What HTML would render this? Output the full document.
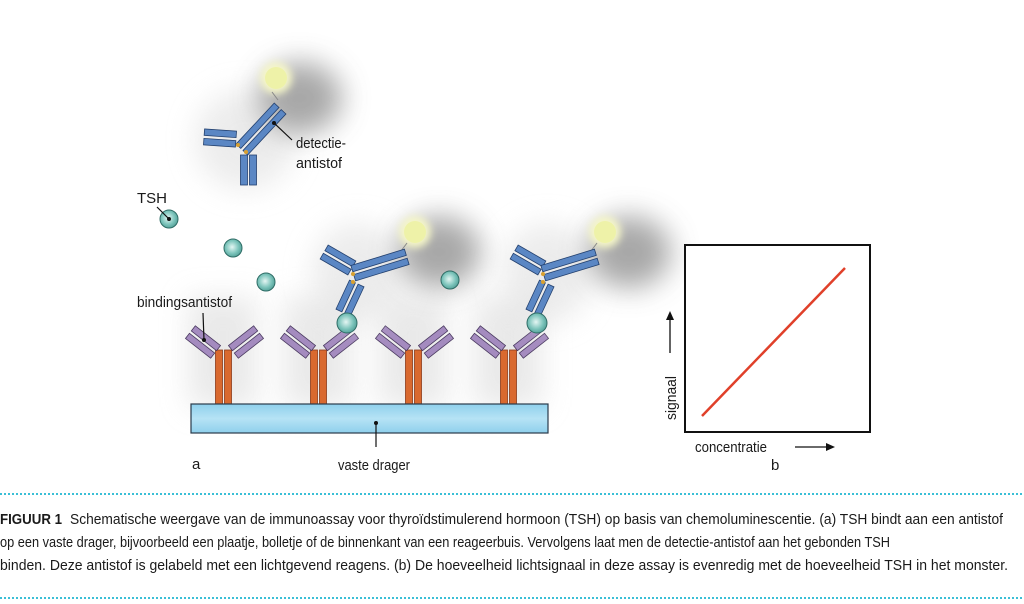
<!DOCTYPE html>
<html><head><meta charset="utf-8"><style>
html,body{margin:0;padding:0;background:#fff;}
svg{display:block;}
text{font-family:"Liberation Sans Narrow","Liberation Sans",sans-serif;fill:#1a1a1a;}
</style></head><body>
<svg width="1024" height="604" viewBox="0 0 1024 604" xmlns="http://www.w3.org/2000/svg">
<defs>
<filter id="bl" x="-60%" y="-60%" width="220%" height="220%"><feGaussianBlur stdDeviation="14"/></filter>
<filter id="bl2" x="-50%" y="-50%" width="200%" height="200%"><feGaussianBlur stdDeviation="4"/></filter>
<linearGradient id="sub" x1="0" y1="0" x2="0" y2="1"><stop offset="0" stop-color="#8fd0ec"/><stop offset="0.5" stop-color="#b6e3f5"/><stop offset="1" stop-color="#8fd0ec"/></linearGradient>
<radialGradient id="tsh" cx="0.45" cy="0.45" r="0.6"><stop offset="0" stop-color="#e4f6f3"/><stop offset="0.6" stop-color="#7cc4bb"/><stop offset="1" stop-color="#4f9c94"/></radialGradient>
<g id="pb"><rect x="-16" y="-8" width="32" height="6.5" fill="#a48bbf" stroke="#4a3a60" stroke-width="0.8"/><rect x="-16" y="1.5" width="32" height="6.5" fill="#a48bbf" stroke="#4a3a60" stroke-width="0.8"/></g>
<g id="ba">
<rect x="-34" y="-110" width="68" height="110" fill="#d8d8d8" filter="url(#bl)" opacity="0.55"/>
<rect x="-7.5" y="-57" width="7" height="57" fill="#d9692f" stroke="#8a3a1a" stroke-width="0.8"/>
<rect x="1.5" y="-57" width="7" height="57" fill="#d9692f" stroke="#8a3a1a" stroke-width="0.8"/>
<g transform="translate(-20,-65) rotate(38)"><use href="#pb"/></g>
<g transform="translate(23,-65) rotate(-38)"><use href="#pb"/></g>
</g>
<g id="bar32"><rect x="-16" y="-8" width="32" height="6.5" fill="#5b87c4" stroke="#23406e" stroke-width="0.8"/><rect x="-16" y="1.5" width="32" height="6.5" fill="#5b87c4" stroke="#23406e" stroke-width="0.8"/></g>
<g id="bar56"><rect x="-28" y="-8" width="56" height="6.5" fill="#5b87c4" stroke="#23406e" stroke-width="0.8"/><rect x="-28" y="1.5" width="56" height="6.5" fill="#5b87c4" stroke="#23406e" stroke-width="0.8"/></g>
<g id="light">
<ellipse cx="24" cy="20" rx="42" ry="36" fill="#999" filter="url(#bl)" opacity="0.85"/>
<circle cx="0" cy="0" r="16" fill="#f6f7c8" filter="url(#bl2)"/>
<circle cx="0" cy="0" r="11" fill="#eef2a8"/>
</g>
<g id="det">
<ellipse cx="10" cy="-50" rx="45" ry="50" fill="#e0e0e0" filter="url(#bl)" opacity="0.6"/>
<use href="#light" x="68" y="-91"/>
<line x1="48" y1="-64" x2="60" y2="-80" stroke="#888" stroke-width="1"/>
<g transform="translate(3,-25) rotate(-65)"><use href="#bar32"/></g>
<g transform="translate(-9,-63) rotate(30)"><use href="#bar32"/></g>
<g transform="translate(33,-58) rotate(-17)"><use href="#bar56"/></g>
<circle cx="6" cy="-49" r="2" fill="#d8a030"/>
<circle cx="6" cy="-41" r="2" fill="#d8a030"/>
</g>
</defs>

<use href="#ba" x="223" y="407"/>
<use href="#ba" x="318" y="407"/>
<use href="#ba" x="413" y="407"/>
<use href="#ba" x="508" y="407"/>
<rect x="191" y="404" width="357" height="29" fill="url(#sub)" stroke="#2a3a4a" stroke-width="1.2"/>

<ellipse cx="245" cy="140" rx="50" ry="50" fill="#e0e0e0" filter="url(#bl)" opacity="0.6"/>
<use href="#light" x="276" y="78"/>
<line x1="272" y1="92" x2="278" y2="100" stroke="#888"/>
<rect x="240.5" y="155" width="7" height="30" fill="#5b87c4" stroke="#23406e" stroke-width="0.8"/>
<rect x="249.5" y="155" width="7" height="30" fill="#5b87c4" stroke="#23406e" stroke-width="0.8"/>
<g transform="translate(220,138) rotate(4)"><use href="#bar32"/></g>
<g transform="translate(261,129) rotate(-47)"><use href="#bar56"/></g>
<circle cx="238" cy="145" r="2" fill="#d8a030"/>
<circle cx="246" cy="152" r="2" fill="#d8a030"/>

<use href="#det" x="347" y="323"/>
<use href="#det" x="537" y="323"/>
<circle cx="347" cy="323" r="10" fill="url(#tsh)" stroke="#2f6d66" stroke-width="1"/>
<circle cx="537" cy="323" r="10" fill="url(#tsh)" stroke="#2f6d66" stroke-width="1"/>

<circle cx="169" cy="219" r="9" fill="url(#tsh)" stroke="#2f6d66" stroke-width="1"/>
<circle cx="233" cy="248" r="9" fill="url(#tsh)" stroke="#2f6d66" stroke-width="1"/>
<circle cx="266" cy="282" r="9" fill="url(#tsh)" stroke="#2f6d66" stroke-width="1"/>
<circle cx="450" cy="280" r="9" fill="url(#tsh)" stroke="#2f6d66" stroke-width="1"/>

<text x="137" y="203" font-size="15">TSH</text>
<line x1="157" y1="207" x2="169" y2="219" stroke="#111" stroke-width="1.2"/><circle cx="169" cy="219" r="2" fill="#111"/>
<text x="137" y="307" font-size="15" textLength="95" lengthAdjust="spacingAndGlyphs">bindingsantistof</text>
<line x1="203" y1="313" x2="204" y2="340" stroke="#111" stroke-width="1.2"/><circle cx="204" cy="340" r="2" fill="#111"/>
<text x="296" y="148" font-size="15" textLength="50" lengthAdjust="spacingAndGlyphs">detectie-</text>
<text x="296" y="168" font-size="15" textLength="46" lengthAdjust="spacingAndGlyphs">antistof</text>
<line x1="292" y1="140" x2="274" y2="123" stroke="#111" stroke-width="1.2"/><circle cx="274" cy="123" r="2" fill="#111"/>
<line x1="376" y1="423" x2="376" y2="447" stroke="#111" stroke-width="1.2"/><circle cx="376" cy="423" r="2" fill="#111"/>
<text x="338" y="470" font-size="15" textLength="72" lengthAdjust="spacingAndGlyphs">vaste drager</text>
<text x="192" y="469" font-size="15">a</text>

<rect x="685" y="245" width="185" height="187" fill="#fff" stroke="#111" stroke-width="2"/>
<line x1="702" y1="416" x2="845" y2="268" stroke="#e0402a" stroke-width="2.5"/>
<line x1="670" y1="353" x2="670" y2="318" stroke="#111" stroke-width="1.3"/>
<polygon points="670,311 666,320 674,320" fill="#111"/>
<text transform="translate(676,420) rotate(-90)" font-size="15" textLength="44" lengthAdjust="spacingAndGlyphs">signaal</text>
<text x="695" y="452" font-size="15" textLength="72" lengthAdjust="spacingAndGlyphs">concentratie</text>
<line x1="795" y1="447" x2="828" y2="447" stroke="#111" stroke-width="1.3"/>
<polygon points="835,447 826,443 826,451" fill="#111"/>
<text x="771" y="470" font-size="15">b</text>

<line x1="0" y1="494" x2="1024" y2="494" stroke="#3bbfd6" stroke-width="2" stroke-dasharray="2,2"/>
<line x1="0" y1="598" x2="1024" y2="598" stroke="#3bbfd6" stroke-width="2" stroke-dasharray="2,2"/>
<text x="0" y="524" font-size="14.5" font-weight="bold" textLength="62" lengthAdjust="spacingAndGlyphs">FIGUUR 1</text>
<text x="70" y="524" font-size="14.5" textLength="933" lengthAdjust="spacingAndGlyphs">Schematische weergave van de immunoassay voor thyroïdstimulerend hormoon (TSH) op basis van chemoluminescentie. (a) TSH bindt aan een antistof</text>
<text x="0" y="547" font-size="14.5" textLength="890" lengthAdjust="spacingAndGlyphs">op een vaste drager, bijvoorbeeld een plaatje, bolletje of de binnenkant van een reageerbuis. Vervolgens laat men de detectie-antistof aan het gebonden TSH</text>
<text x="0" y="570" font-size="14.5" textLength="1008" lengthAdjust="spacingAndGlyphs">binden. Deze antistof is gelabeld met een lichtgevend reagens. (b) De hoeveelheid lichtsignaal in deze assay is evenredig met de hoeveelheid TSH in het monster.</text>
</svg>
</body></html>
